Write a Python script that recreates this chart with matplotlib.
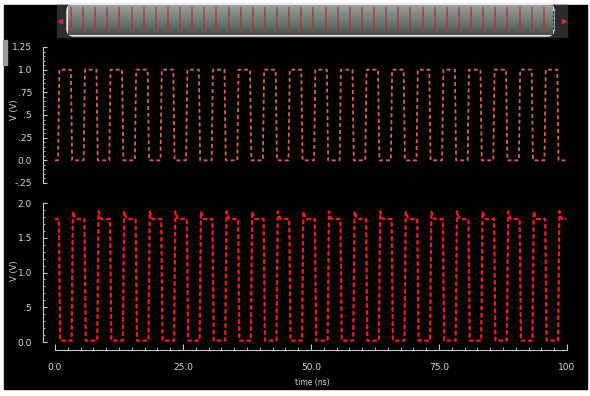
import numpy as np
import matplotlib
matplotlib.use("Agg")
import matplotlib.pyplot as plt
from matplotlib.patches import Rectangle, FancyBboxPatch
from matplotlib.ticker import FixedLocator, FixedFormatter, MultipleLocator

# ---------------- data ----------------
in_rise_ns = [0.6, 5.6, 10.6, 15.6, 20.6, 25.6, 30.6, 35.6, 40.6, 45.6,
              50.6, 55.6, 60.6, 65.6, 70.6, 75.6, 80.6, 85.6, 90.6, 95.6]
in_fall_ns = [3.1, 8.1, 13.1, 18.1, 23.1, 28.1, 33.1, 38.1, 43.1, 48.1,
              53.1, 58.1, 63.1, 68.1, 73.1, 78.1, 83.1, 88.1, 93.1, 98.1]
in_low_v, in_high_v = 0.0, 1.0
out_low_v, out_high_v, out_peak_v = 0.02, 1.77, 1.88
out_delay_ns = 0.15
edge_ns = 0.25
t_end_ns = 100.0

top_yticks = [-0.25, 0.0, 0.25, 0.5, 0.75, 1.0, 1.25]
top_yticklabels = ['-.25', '0.0', '.25', '.5', '.75', '1.0', '1.25']
bot_yticks = [0.0, 0.5, 1.0, 1.5, 2.0]
bot_yticklabels = ['0.0', '.5', '1.0', '1.5', '2.0']
xticks = [0, 25, 50, 75, 100]
xticklabels = ['0.0', '25.0', '50.0', '75.0', '100']
x_label = 'time (ns)'
y_label = 'V (V)'

# ---------------- waveforms built from the edge lists ----------------
t_in, v_in = [0.0], [in_low_v]
for r, f in zip(in_rise_ns, in_fall_ns):
    t_in += [r, r + edge_ns, f, f + edge_ns]
    v_in += [in_low_v, in_high_v, in_high_v, in_low_v]
t_in.append(t_end_ns); v_in.append(in_low_v)

t_out, v_out = [0.0], [out_high_v]
for r, f in zip(in_rise_ns, in_fall_ns):
    fo, ro = r + out_delay_ns, f + out_delay_ns
    t_out += [fo, fo + edge_ns, ro, ro + edge_ns, ro + edge_ns + 0.5]
    v_out += [out_high_v, out_low_v, out_low_v, out_peak_v, out_high_v]
t_out.append(t_end_ns); v_out.append(out_high_v)

# ---------------- figure ----------------
W, H = 590, 396
PT = 0.72  # px -> pt at 100 dpi
fig = plt.figure(figsize=(W / 100, H / 100), dpi=100, facecolor='white')

bg = fig.add_axes([0, 0, 1, 1], zorder=-10)
bg.set_xlim(0, W); bg.set_ylim(H, 0); bg.axis('off')
bg.add_patch(Rectangle((4, 5), 583, 384, color='black'))
bg.add_patch(Rectangle((57, 5), 510, 32, color='#2c2c2c'))
bg.add_patch(Rectangle((3, 40), 4, 25, color='#9a9a9a'))
bg.plot([60], [21], marker='<', ms=3, color='#c03030', ls='none')
bg.plot([564], [21], marker='>', ms=3, color='#c03030', ls='none')

# scrollbar overview
sb = fig.add_axes([68 / W, 1 - 35 / H, 485 / W, 30 / H], zorder=-5)
sb.set_xlim(0, 100); sb.set_ylim(0, 1); sb.axis('off')
stops = np.array([[0.62, 0.63, 0.63], [0.50, 0.54, 0.52], [0.40, 0.44, 0.42], [0.30, 0.30, 0.30]])
pos = np.linspace(0, 1, len(stops))
g = np.linspace(0, 1, 40)
grad = np.stack([np.interp(g, pos, stops[:, c]) for c in range(3)], axis=-1)[:, None, :]
sb.imshow(grad, extent=[0, 100, 0, 1], aspect='auto', origin='upper')
sb.vlines(in_rise_ns + in_fall_ns, 0.08, 0.92, color='#b03030', lw=1.2, alpha=0.7)
bg.add_patch(FancyBboxPatch((68, 5), 485, 30, boxstyle='round,pad=0,rounding_size=6',
                            fill=False, ec='#e6e6e6', lw=2.5, zorder=5))
for kx in (71, 549):
    bg.add_patch(Rectangle((kx, 11), 4, 18, color='#3c3c3c', zorder=6))
    for ky in (14, 18, 22, 26):
        bg.plot([kx, kx + 4], [ky, ky], color='#9a9a9a', lw=0.6, zorder=7)

txt_col = '#d8d8d8'
ax_col = '#c8c8c8'

def style_left(ax, lo, hi, ticks, labels, minor):
    for s in ('top', 'right', 'bottom'):
        ax.spines[s].set_visible(False)
    ax.spines['left'].set_position(('outward', 12 * PT))
    ax.spines['left'].set_bounds(lo, hi)
    ax.spines['left'].set_color(ax_col)
    ax.yaxis.set_major_locator(FixedLocator(ticks))
    ax.yaxis.set_major_formatter(FixedFormatter(labels))
    n = int(round((hi - lo) / minor))
    ax.yaxis.set_minor_locator(FixedLocator([lo + i * minor for i in range(n + 1)]))
    ax.tick_params(axis='y', which='major', direction='in', length=4 * PT, width=0.8,
                   color=ax_col, labelcolor=txt_col, labelsize=6.5, pad=8)
    ax.tick_params(axis='y', which='minor', direction='in', length=2 * PT, width=0.6, color=ax_col)

# top panel
ax1 = fig.add_axes([55 / W, 1 - 183 / H, 512 / W, 136 / H])
ax1.set_facecolor('none')
ax1.set_xlim(0, 100); ax1.set_ylim(-0.25, 1.25)
ax1.plot(t_in, v_in, color='#d9624a', lw=1.3, ls=(0, (2.2, 1.6)))
style_left(ax1, -0.25, 1.25, top_yticks, top_yticklabels, 0.05)
ax1.set_xticks([])

# bottom panel
ax2 = fig.add_axes([55 / W, 1 - 350 / H, 512 / W, 147 / H])
ax2.set_facecolor('none')
ax2.set_xlim(0, 100); ax2.set_ylim(-0.115, 2.0)
ax2.plot(t_out, v_out, color='#e41c1c', lw=1.7, ls=(0, (1.2, 1.8)),
         dash_capstyle='round')
style_left(ax2, 0.0, 2.0, bot_yticks, bot_yticklabels, 0.1)
ax2.spines['bottom'].set_visible(True)
ax2.spines['bottom'].set_color(ax_col)
ax2.spines['bottom'].set_bounds(0, 100)
ax2.xaxis.set_major_locator(FixedLocator(xticks))
ax2.xaxis.set_major_formatter(FixedFormatter(xticklabels))
ax2.xaxis.set_minor_locator(MultipleLocator(2.5))
ax2.tick_params(axis='x', which='major', direction='in', length=6 * PT, width=0.8,
                color=ax_col, labelcolor=txt_col, labelsize=6.5, pad=9)
ax2.tick_params(axis='x', which='minor', direction='in', length=3 * PT, width=0.6, color=ax_col)

fig.text(312 / W, 1 - 383 / H, x_label, color=txt_col, fontsize=5.5, ha='center', va='center')
fig.text(14 / W, 1 - 110 / H, y_label, color=txt_col, fontsize=6, rotation=90, ha='center', va='center')
fig.text(14 / W, 1 - 271 / H, y_label, color=txt_col, fontsize=6, rotation=90, ha='center', va='center')

fig.savefig('out.png', dpi=100, facecolor='white')
